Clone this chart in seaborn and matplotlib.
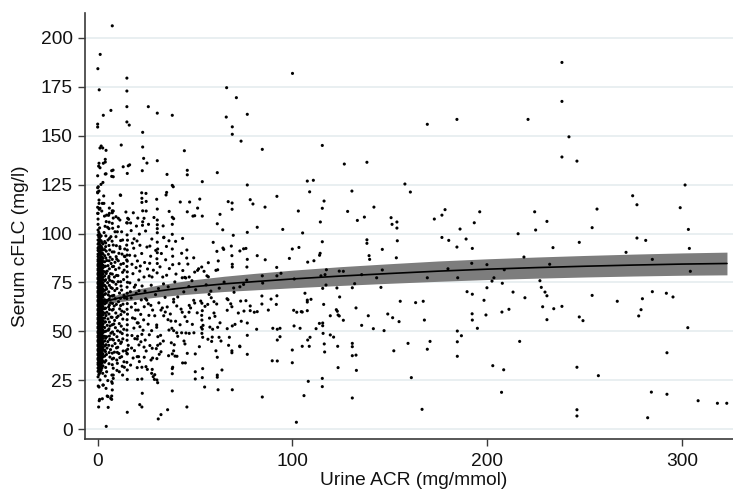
import matplotlib
matplotlib.use("Agg")
import matplotlib.pyplot as plt
import seaborn as sns
import numpy as np
import pandas as pd

sns.set_theme(style="white")
plt.rcParams["font.family"] = ["Liberation Sans", "DejaVu Sans"]

# ---------------- data (urine ACR mg/mmol, serum cFLC mg/l) ----------------
# sparse points, ACR > ~65
far_pts = [
    (100, 181.8), (76.8, 160.9), (169.2, 155.8), (184.4, 158.3), (73.6, 147.2), (84.5, 143),
    (115.3, 145), (126.6, 135.5), (138.2, 136.4), (76.8, 124.8), (107.6, 126.8), (110.7, 127.2),
    (157.7, 125.3), (160.5, 121.2), (108.8, 121.3), (130.5, 121.7), (78.3, 117.3), (79.7, 115.1),
    (92, 119), (116.2, 116.6), (85.9, 113.5), (103, 111.5), (115.3, 112.9), (128.3, 111.3),
    (141.8, 113.5), (114.3, 105.9), (133.3, 106.7), (136.9, 108.4), (150.6, 108.1), (153.6, 105.9),
    (151.1, 104.7), (153.6, 102.8), (81.9, 103.2), (95, 102.1), (76.8, 100.6), (105.2, 100.3),
    (172.8, 107.4), (176.7, 109.4), (178.3, 112.2), (196.1, 111.1), (186, 102.3), (193.3, 105.5),
    (176.7, 98), (180.2, 96.5), (189.1, 97.2), (184.4, 93.1), (192.3, 92.4), (115.3, 95.8),
    (138.2, 96.8), (138.2, 95), (153.8, 96.3), (146.1, 91.9), (103.3, 92.9), (99.9, 92.1), (76.1, 92.4),
    (238.3, 187.4), (238.3, 167.5), (220.9, 158.3), (241.9, 149.4), (238.3, 139.1), (246, 137),
    (301.5, 124.8), (274.6, 119.3), (276.8, 114.7), (299, 113.2), (224.3, 111.1), (256.3, 112.5),
    (230.6, 106.2), (224.8, 101.8), (253.8, 103), (303.2, 102.1), (215.8, 99.9), (247.2, 95.5),
    (276.8, 97.7), (281.3, 96.5), (233.7, 92.8), (303.7, 92.4),
    (271.2, 90.4), (218.8, 88), (199.8, 84.1), (232, 84.3), (284.7, 86.8), (208.7, 81.5),
    (304.2, 80.7), (203.4, 77.4), (202.4, 75.7), (207.7, 74.6), (199.8, 72.3), (227, 75.9),
    (227.7, 72.5), (229.6, 70.1), (230.6, 68.2), (213.2, 70.1), (219.3, 67.2), (198.3, 65.9),
    (253.8, 68.4), (266.7, 65.4), (279.6, 66.7), (284.7, 70.3), (291.9, 69.5), (295.3, 67.6),
    (228.4, 62.6), (234.1, 61.6), (238.3, 62.8), (199.3, 58.4), (207.5, 59.9), (211.1, 61.3),
    (230.6, 56), (247.2, 57.4), (249.1, 55.5), (278.9, 61.1), (277.7, 57.9), (302.9, 51.9),
    (216.6, 44.9), (292.2, 39.1), (202.8, 32.5), (208.4, 30.4), (246, 31.7), (257, 27.4),
    (207.3, 18.9), (284.2, 19), (292.2, 17.9), (308.2, 14.6), (318.1, 13.3), (322.9, 13.3),
    (246, 10), (246, 6.8), (282.3, 5.9),
    (81.9, 88.7), (86, 86.6), (76.8, 86.8), (98.4, 87.3), (107.8, 85.4), (111, 86.1), (113.9, 88.9),
    (114.2, 89.9), (139.3, 88.7), (139.6, 86.8), (153.3, 87.6), (76.6, 82.9), (91.9, 82.7),
    (94.1, 79.7), (92, 78.4), (84.5, 78.4), (76.5, 76.2), (100.9, 76.8), (114.6, 78.4), (117.4, 81.5),
    (116.7, 79), (124, 80.8), (126.1, 80.7), (135.5, 79), (143.2, 77.4), (146.1, 81.4), (169.2, 77.4),
    (179.8, 82), (184.8, 77.4), (192, 84.8), (84.7, 74.7), (73, 72.8), (117.2, 73.7), (115.5, 72),
    (131.9, 74.4), (130.7, 72.3), (145.4, 72.5), (122.8, 72.2), (76.1, 65.7), (84.3, 68.1), (92, 68.2),
    (106.4, 69.5), (107.6, 66), (107.6, 65), (109.5, 66.4), (89, 66.5), (91.7, 63.8), (84.3, 64),
    (78.3, 63), (75.1, 60.4), (78.3, 60.6), (80.4, 59.8), (81.9, 60.1), (87.6, 60.9), (100.6, 60.8),
    (102.2, 59.8), (104.5, 60.1), (105, 59.9), (107.6, 60.6), (116, 63.8), (122.5, 61.1), (123, 60.3),
    (123.4, 58.4), (124, 57.9), (119.4, 58), (124.2, 67.6), (132.6, 62), (138.9, 58), (148.9, 58.9),
    (151.4, 57), (154.7, 55), (155.3, 65.4), (163.2, 64.7), (167.1, 65.4), (167.7, 55.8), (189.6, 70.3),
    (192.3, 69), (192.2, 59), (192.3, 55.8), (194.9, 51.6), (186.7, 47.8), (184.6, 50.2), (184.6, 44.7),
    (184.6, 37.3), (170.6, 44.9), (169.2, 40.9), (159.3, 43.9), (152, 40.1), (147, 50.4), (141.5, 51.4),
    (135.5, 53.1), (126.1, 55.7), (119.4, 48.2), (121.1, 47.1), (115.5, 54.3), (115.5, 52.9),
    (113.8, 54.1), (115.7, 49), (112.1, 51.4), (103.9, 51.6), (100.8, 52.8), (93.6, 51.6), (92.2, 51.1),
    (89.9, 51.6), (93.6, 47.3), (92.2, 45.6), (109, 47), (107.8, 45.6), (108.6, 42.4), (105, 42.4),
    (116.3, 43.6), (116.5, 39.5), (123.2, 42.4), (130.7, 43.9), (130.7, 42.2), (132.6, 37.9),
    (130.7, 37.6), (99.9, 40.5), (99.9, 34), (89.6, 35), (92.2, 34.9), (81.6, 51.1), (76.8, 54.3),
    (76.8, 48), (76.8, 38.3), (123.4, 31.5), (132.8, 30.1), (115.3, 26), (115.3, 21.8), (108.1, 24.5),
    (161, 26.4), (84.5, 16.5), (105.9, 17.2), (130.7, 16), (166.5, 10.2), (102, 3.6), (73, 42.2),
    (66.2, 174.5), (71.2, 169.4), (69.1, 154.5), (69.1, 150.7), (66, 159.5), (67, 116.3), (69, 115.6),
    (69, 112.4), (64.2, 101.9), (59.3, 95.5), (61.4, 105), (62.8, 109.8), (61.4, 131.1), (53.7, 126.5),
    (69.6, 99.1), (73, 91.1), (74.9, 92.2), (68.6, 93.6), (68.9, 88.7), (69.1, 84.3), (69.1, 82.9),
    (64.3, 92.6), (64.7, 91.9), (61.2, 90.9), (61.9, 86), (61.6, 81.5),
]

# moderately dense points, ACR ~0-75
mid_pts = [
    (7.5, 206.1), (1.3, 191.5), (0.1, 184.2), (0.8, 173.4), (15, 179.4), (15, 172.8), (15, 164.8),
    (6.8, 162.9), (2.9, 160.4), (26, 164.8), (30.6, 161.5), (38.3, 160.4), (0, 155.9), (0, 154.4),
    (15, 157), (16.2, 155.4), (23.1, 151.7), (23.1, 144.2), (12.1, 145.2), (1.8, 144.7), (1.2, 143.7),
    (2.6, 143.7), (4.3, 142.5), (3.9, 137.9), (3.9, 136.5), (0.7, 135.9), (0.5, 134.4), (1.2, 133.6),
    (7.2, 132.1), (7.9, 132.4), (7.2, 129.2), (4.3, 130.5), (13.1, 134.1), (16.4, 135.1), (15.2, 130.7),
    (22.9, 132.1), (23.6, 138.4), (25.3, 136), (30.6, 137.2), (35.6, 130.2), (44.5, 142.3), (46, 132.3),
    (46, 130), (2.9, 135.9), (3.9, 130.4), (0, 129.5), (8, 129), (15.7, 134.6), (2.7, 126.1),
    (1.7, 125.1), (0.3, 123.9), (0.7, 121.7), (0, 120.8), (11.6, 119.7), (7.7, 115.4), (7.5, 111.6),
    (8, 111.5), (0.7, 117.1), (0.7, 115.4), (1.2, 112.9), (2.1, 111.5), (3.2, 115.4), (4.6, 109.4),
    (6, 110.3), (9.4, 108.6), (10.6, 107.8), (11.4, 106.9), (14.9, 105.5), (15.4, 107.8), (12.3, 100.9),
    (10.1, 100.9), (7.7, 102.7), (6.8, 98.4), (9.4, 98.4), (12.8, 96.7), (14.9, 94.1), (11.4, 93.3),
    (8, 94.1), (5.3, 96.7), (4.1, 93.3), (6.2, 91.6), (10.9, 89.9), (14, 88.2), (14.9, 86.5),
    (38.3, 124.6), (38.8, 123.9), (30.3, 117.5), (35.4, 121), (35.1, 119.7), (42.4, 116.1),
    (47.2, 116.1), (52.4, 117.6), (51.3, 113), (48.9, 108.9), (53.7, 108.9), (49.8, 109.1), (46, 111.1),
    (11.8, 119.5), (22.6, 120.8), (24.8, 120.5), (22.7, 118), (22.7, 115.9), (24.9, 116.4),
    (23.1, 111.6), (24.9, 111.5), (23.8, 107.8), (30.6, 112.5), (30.6, 106.9), (30.6, 104.5),
    (30.6, 102.5), (30.6, 100.4), (34, 98.1), (38.3, 108.3), (39, 107.6), (38.3, 104.7), (38.3, 99.6),
    (43.6, 97.5), (0, 123.4), (0, 121.2), (14.5, 111), (15.9, 107.3), (16.9, 105.4), (15.2, 105.4),
    (8, 107.9), (7.5, 105.2), (0, 113.4), (0, 110.3), (0.8, 112.4), (3.1, 119.2), (2.4, 115.4),
    (6, 113), (7.5, 110.6), (5.6, 109.3), (5.1, 103.2), (5.8, 102.5), (10.6, 103.5), (8.9, 100.9),
    (20.2, 96.2), (21.7, 94), (25.3, 93.1), (36.6, 96.3), (40, 96), (33.9, 97.9), (30.8, 92.1),
    (38.3, 92.1), (43.1, 89.9), (45.8, 91.6), (49.3, 87.6), (45.7, 87.5), (38.5, 88.4), (38.5, 84.1),
    (32, 83), (30.4, 87.1), (53.4, 82.9), (56.8, 85.1), (51.8, 82), (56.1, 78.4), (45.2, 77.3),
    (47, 77.8), (54.6, 80.7), (60.7, 81.2), (56.8, 77.9), (27.9, 77.8), (26.5, 78.4), (21.6, 80.8),
    (23.8, 77.8), (33.4, 77.8), (35.4, 78.7), (40.2, 79.3), (43.4, 77.4), (44.7, 77.6), (49.8, 80.3),
    (51.3, 81.2), (23.0, 104.2), (23.1, 106.0), (30.6, 95.6), (30.6, 90.2), (30.6, 84.7), (30.5, 79.9),
    (10.5, 75.4), (12, 73.2), (16.5, 74.8), (18.8, 72.6), (21.2, 70.8), (13.5, 68.4), (17.2, 67.1),
    (19.8, 69.5), (27.5, 73.6), (31.2, 71.9), (33.8, 74.3), (36.2, 72.8), (29.7, 68.8), (34.6, 67.4),
    (44.2, 70.2), (46.8, 72.9), (50.3, 71.3), (55.7, 73.8), (58.1, 70.6), (62.4, 72.1), (64.9, 75.2),
    (57.2, 68.9),
    (4.4, 1.5), (15.2, 8.7), (0.5, 11.4), (5.4, 11.2), (1, 15.3), (2.4, 15.6), (4.9, 17), (7.2, 17),
    (7.2, 15.3), (21.6, 12.6), (22.7, 11.4), (31.1, 5.3), (32.5, 7.5), (35.9, 10), (45.8, 11.4),
    (22.9, 18.4), (38.3, 19.6), (54.9, 21.6), (61.8, 20.2), (69.1, 20.2), (0.3, 22.1), (0.7, 21.6),
    (2.7, 22.6), (7.5, 23.5), (7.5, 20.1), (15.2, 25.5), (20.5, 25.5), (22.7, 25.7), (27.7, 28.6),
    (28.5, 26.9), (29.1, 25.5), (30.4, 25.2), (30.8, 23.8), (38.3, 28.4), (50.1, 29.4), (50.1, 25.7),
    (53.7, 26.4), (61.4, 27.7), (61.4, 26.6), (53.9, 31), (63.8, 30.3), (38.5, 31.7), (38.3, 31),
    (43.6, 33.9), (40.7, 37.3), (20.3, 31.5), (22.7, 31.7), (24.8, 32), (25.5, 30.6), (28, 30.6),
    (29.3, 27.9), (27.4, 35.4), (30.4, 36.1), (15.2, 30.3), (7.3, 27.7), (20.3, 37.1), (21, 37.1),
    (15, 34.2), (7.5, 35.9), (9.8, 35.4), (11.4, 36.6), (12.3, 37.1), (10.1, 39.3), (13.1, 40),
    (14.5, 40.1), (15.2, 38.5), (28.2, 36.4), (31.6, 38.3), (32.5, 39.6), (36.4, 37.6), (38.3, 38.5),
    (39.7, 37.4), (39, 40.1), (45, 33.9), (46, 38.8), (50.1, 38.5), (52.2, 42.2), (44.8, 43.6),
    (37.8, 44.2), (39.3, 43.2), (32.1, 43.7), (30.8, 42.9), (28, 41.4), (30.1, 41.2), (24.9, 40),
    (23.8, 42), (60.7, 40.1), (53.9, 47), (56.6, 46), (58.8, 47.1), (58.5, 44.9), (63.3, 45.1),
    (61.4, 36.8), (68.9, 40.1), (68.9, 39.1), (67.6, 47), (67.2, 42.9), (72.9, 42.5), (69.1, 52.8),
    (70.5, 53.6), (66.5, 51.4), (73.7, 55.2), (72.2, 59.4), (66.5, 60.8), (68.9, 62.6), (68.3, 64.1),
    (69.8, 72.2), (70, 70), (66.9, 66.2), (74.9, 74), (73.4, 65.5), (62.8, 54.4), (61.6, 52.1),
    (62.3, 47), (57.6, 52.2), (59, 51.1), (53.2, 52.1), (54.1, 53.1), (53.7, 51.2), (53.5, 49),
    (49.4, 49.3), (47, 49), (45.3, 49.2), (43.1, 49.3), (40.6, 49.3), (39, 50.4), (38.1, 51.6),
    (36.6, 50.7), (30.9, 47.3), (33.7, 45.1), (32.3, 48), (27.7, 50.4), (26.5, 48.3), (53.5, 55.8),
    (53.4, 58.2), (53.7, 60.6), (55.1, 62.8), (56.5, 63.8), (59.7, 59.4), (60.2, 57.7), (46.9, 59.8),
    (44.8, 57.5), (43.4, 59.8), (47, 63.3), (47.7, 62), (49.3, 65.9), (49.8, 64.5), (42.8, 61.4),
    (40.6, 63), (52.9, 65.5), (53.5, 64.4), (58.3, 67.2), (59.7, 65.2), (61.1, 64), (66.4, 66.7),
    (40, 55.2), (37.6, 55.3), (36.1, 56), (37.3, 58.9), (33.9, 58), (34.7, 59.9), (33.2, 62),
    (32.5, 60.9), (39, 65), (39, 66.4), (41.1, 67.6), (26.3, 58.2), (28.2, 60.9), (29.3, 58),
    (30.3, 53.3), (30.3, 52.1), (23.3, 50.6), (22.7, 48.5), (22.2, 44.7), (20.5, 47.5), (20.3, 46.1),
    (21.2, 43.1), (20.3, 54.4), (20.8, 54.3), (19.5, 60.9), (20.8, 60.9), (22.1, 58.7), (23.9, 62.6),
    (26, 64.1), (25.2, 66), (24.6, 66.7), (15.7, 42.9), (15.4, 40.9), (15, 38.8), (13.5, 34.5),
    (12.6, 32.2), (11.1, 29.4), (9.9, 30.1), (41.1, 47.5), (44.3, 45.1), (1.2, 25.2), (2.9, 22.6),
    (4.3, 20.9), (7.2, 24.3), (8, 26), (5.3, 16.7), (6.7, 15.8), (0.8, 14.6), (12.8, 27.7),
    (13.7, 31.7), (10.1, 33.7), (8, 31.2), (4.6, 29.4), (2.6, 28.6), (8, 27.7),
    (16.4, 88.9), (17.8, 95.1), (19.7, 82.6), (21.1, 76.3), (22.8, 73.2), (24.3, 70.6), (26.7, 84.8),
    (28.6, 81.3), (29.8, 91.4), (32.7, 89.8), (34.9, 86.6), (36.8, 82.1), (39.6, 75.3), (41.8, 84.6),
    (43.7, 81.1), (46.3, 84.4), (48.4, 75.9), (35.3, 93.4), (27.8, 97.2), (24.6, 101.3), (20.6, 107.9),
    (18.3, 110.6), (26.1, 104.7), (33.6, 103.9), (36.7, 111.3), (28.9, 108.2), (19.1, 56.5),
    (21.7, 52.4), (23.6, 55.9), (25.9, 53.7), (24.4, 45.6), (26.8, 42.8), (18.9, 40.2), (21.4, 34.6),
    (23.9, 36.8), (17.6, 47.9), (19.3, 64.3), (22.4, 66.1), (27.3, 63.3), (31.4, 64.6), (35.7, 62.5),
    (42.3, 53.4), (45.9, 55.1), (48.6, 53.6), (51.1, 59.5), (57.4, 56.8),
]

# dense points next to the y axis, ACR ~3-27
near_pts = [
    (4.5, 38.2), (4.8, 41.5), (5.2, 44.8), (4.6, 47.3), (5.5, 50.6), (4.9, 53.1), (5.3, 56.4),
    (4.7, 59.8), (5.6, 62.5), (4.8, 65.9), (5.4, 68.7), (4.6, 71.6), (5.1, 74.9), (5.7, 77.3),
    (4.9, 80.8), (5.3, 83.6), (4.7, 86.2), (5.5, 89.4),
    (6.3, 36.9), (6.6, 40.7), (6.2, 45.9), (6.8, 49.1), (6.4, 52.8), (6.9, 57.3), (6.1, 61.2),
    (6.7, 64.6), (6.3, 67.9), (6.8, 72.4), (6.2, 76.1), (6.6, 79.5), (6.9, 84.7), (6.4, 87.9),
    (7.5, 33.0), (7.5, 38.9), (7.5, 42.6), (7.5, 46.0), (7.6, 49.7), (7.5, 53.4), (7.4, 57.2),
    (7.5, 60.9), (7.6, 64.3), (7.5, 68.2), (7.5, 72.0), (7.4, 75.6), (7.5, 79.3), (7.6, 83.1),
    (7.5, 86.8), (7.5, 90.6), (7.4, 96.1),
    (8.6, 39.4), (8.9, 43.8), (8.4, 48.5), (9.1, 51.9), (8.7, 55.6), (9.3, 59.4), (8.5, 63.0),
    (9.0, 66.7), (8.8, 70.9), (9.4, 74.1), (8.6, 77.8), (9.2, 81.6), (8.9, 85.3), (9.5, 88.2),
    (10.3, 41.9), (10.8, 45.4), (10.2, 50.3), (11.1, 54.0), (10.5, 57.8), (11.3, 61.5), (10.7, 65.2),
    (11.2, 69.6), (10.4, 78.5), (11.0, 82.4), (10.6, 86.1), (11.5, 92.3),
    (12.2, 44.6), (12.6, 48.9), (12.1, 52.7), (12.9, 56.3), (12.4, 60.4), (13.0, 63.9), (12.3, 71.1),
    (12.8, 80.2), (13.2, 84.7), (12.5, 89.5),
    (15.1, 45.5), (15.2, 48.1), (15.0, 50.7), (15.2, 53.4), (15.1, 56.0), (15.3, 58.8), (15.1, 61.3),
    (15.2, 64.2), (15.0, 66.8), (15.2, 69.5), (15.1, 72.6), (15.3, 75.1), (15.1, 77.9), (15.2, 80.4),
    (15.0, 83.2), (15.2, 85.9), (15.1, 89.0), (15.2, 91.6), (15.3, 96.6), (15.1, 99.3),
    (17.3, 62.4), (18.1, 79.5), (17.6, 84.3), (19.2, 88.6), (18.5, 92.5), (20.4, 86.0), (21.9, 83.4),
    (16.8, 70.3), (19.4, 73.7), (22.6, 89.8), (24.1, 85.2), (25.6, 81.9), (27.2, 88.4), (26.8, 93.6),
    (18.7, 97.3), (17.2, 101.5), (19.9, 103.8), (21.4, 99.7), (17.9, 56.9), (18.6, 51.7),
    (19.1, 46.3), (17.4, 41.5), (18.2, 36.4), (16.9, 32.8),
    (3.3, 100.5), (4.2, 98.8), (3.8, 103.7), (4.4, 106.1), (3.5, 108.9), (5.9, 105.8), (4.1, 31.6),
    (3.9, 27.2), (5.8, 33.5), (5.2, 24.9),
    (4.2, 35.1), (4.0, 39.7), (4.3, 43.2), (4.1, 46.5), (4.4, 50.2), (4.0, 54.9), (4.3, 58.1),
    (4.1, 61.9), (4.4, 64.8), (4.0, 69.3), (4.3, 72.7), (4.1, 76.4), (4.4, 79.6), (4.0, 83.3),
    (4.2, 87.5), (4.4, 91.0), (4.1, 95.2),
    (5.9, 39.2), (5.7, 42.9), (6.0, 47.6), (5.8, 51.3), (6.0, 54.8), (5.8, 58.9), (6.0, 63.4),
    (5.9, 66.5), (5.7, 70.2), (6.0, 73.5), (5.8, 78.1), (6.0, 82.0), (5.9, 86.1), (5.8, 93.9),
    (6.1, 97.5),
    (8.2, 36.3), (9.7, 41.6), (8.1, 45.6), (9.9, 47.3), (8.3, 53.8), (9.8, 57.1), (8.0, 61.3),
    (9.6, 63.8), (8.3, 68.4), (9.9, 71.9), (8.1, 75.2), (9.7, 78.6), (8.2, 83.2), (9.8, 86.9),
    (8.4, 90.6), (9.6, 93.8), (10.9, 38.7), (11.8, 43.9), (12.9, 46.2), (11.6, 49.7), (13.4, 51.1),
    (11.9, 58.6), (13.6, 59.9), (11.8, 63.2), (13.8, 67.1), (11.7, 66.9), (13.3, 76.5), (11.8, 75.4),
    (13.6, 81.3), (11.9, 84.3), (13.7, 88.4), (11.8, 96.4), (13.9, 92.1),
]

# near-solid column at very low ACR: one x value per column, y values read down the column
core_acr = [0.2, 0.6, 1.0, 1.4, 1.8, 2.2, 2.7, 3.6]
core_cflc_0 = [26.8, 29.6, 31.3, 33.1, 34.0, 35.6, 36.3, 37.9, 38.6, 40.2, 40.9, 42.5, 43.2, 44.8,
               45.5, 47.0, 47.8, 49.3, 50.0, 51.6, 52.3, 53.9, 54.6, 56.1, 56.9, 58.4, 59.2, 60.7,
               61.4, 63.0, 63.7, 65.3, 66.0, 67.5, 68.3, 69.8, 70.6, 72.1, 72.8, 74.4, 75.1, 76.7,
               77.4, 79.0, 79.7, 81.2, 82.0, 83.5, 84.3, 85.8, 86.7, 88.3, 89.5, 91.4, 92.6, 94.6,
               96.7, 99.2, 101.8, 104.7, 107.4, 110.3]
core_cflc_1 = [28.0, 30.5, 32.2, 33.6, 34.8, 36.1, 37.1, 38.3, 39.4, 40.6, 41.6, 42.9, 43.9, 45.2,
               46.2, 47.4, 48.5, 49.7, 50.7, 52.0, 53.0, 54.3, 55.3, 56.5, 57.6, 58.8, 59.8, 61.1,
               62.1, 63.4, 64.4, 65.6, 66.7, 67.9, 68.9, 70.2, 71.2, 72.5, 73.5, 74.7, 75.8, 77.0,
               78.0, 79.3, 80.3, 81.6, 82.6, 83.8, 84.9, 86.3, 87.6, 89.3, 91.0, 93.2, 95.5, 98.2,
               100.6]
core_cflc_2 = [28.7, 31.2, 32.5, 34.0, 35.0, 36.4, 37.3, 38.6, 39.5, 40.9, 41.8, 43.1, 44.1, 45.4,
               46.3, 47.6, 48.6, 49.9, 50.8, 52.1, 53.1, 54.4, 55.3, 56.7, 57.6, 58.9, 59.8, 61.2,
               62.1, 63.4, 64.4, 65.7, 66.6, 67.9, 68.9, 70.2, 71.1, 72.5, 73.4, 74.7, 75.6, 77.0,
               77.9, 79.2, 80.2, 81.5, 82.4, 83.8, 84.7, 86.1, 87.3, 89.0, 90.4, 92.5, 94.5, 97.1,
               99.6, 102.9]
core_cflc_3 = [29.5, 31.9, 33.4, 34.8, 35.9, 37.1, 38.1, 39.4, 40.4, 41.6, 42.7, 43.9, 44.9, 46.2,
               47.2, 48.4, 49.5, 50.7, 51.7, 53.0, 54.0, 55.2, 56.3, 57.5, 58.5, 59.8, 60.8, 62.0,
               63.1, 64.3, 65.3, 66.6, 67.6, 68.8, 69.9, 71.1, 72.1, 73.4, 74.4, 75.6, 76.7, 77.9,
               78.9, 80.2, 81.2, 82.4, 83.5, 84.7, 86.0, 87.6, 89.3, 91.3, 93.4, 96.1, 98.5]
core_cflc_4 = [30.3, 32.6, 34.3, 35.9, 37.1, 38.5, 39.6, 41.0, 42.0, 43.5, 44.5, 45.9, 46.9, 48.4,
               49.4, 50.8, 51.8, 53.3, 54.3, 55.7, 56.7, 58.2, 59.2, 60.6, 61.6, 63.1, 64.1, 65.5,
               66.5, 68.0, 69.0, 70.4, 71.4, 72.9, 73.9, 75.3, 76.3, 77.8, 78.8, 80.2, 81.2, 82.7,
               83.7, 85.2, 86.4, 88.1, 89.6, 91.6, 93.5, 96.3, 98.8]
core_cflc_5 = [31.4, 33.8, 35.7, 37.6, 39.0, 40.7, 42.1, 43.5, 45.2, 46.6, 48.0, 49.7, 51.1, 52.5,
               54.2, 55.6, 57.0, 58.7, 60.1, 61.5, 63.2, 64.6, 66.0, 67.7, 69.1, 70.5, 72.2, 73.6,
               75.0, 76.7, 78.1, 79.5, 81.2, 82.6, 84.3, 86.0, 88.1, 90.2, 92.7, 95.4]
core_cflc_6 = [32.4, 34.7, 37.0, 38.5, 40.3, 41.7, 43.4, 44.7, 46.4, 47.7, 49.4, 50.7, 52.4, 53.7,
               55.4, 56.7, 58.4, 59.7, 61.4, 62.7, 64.4, 65.7, 67.4, 68.7, 70.4, 71.7, 73.4, 74.7,
               76.4, 77.7, 79.4, 80.7, 82.4, 83.8, 85.7, 87.3, 89.6, 91.7, 94.7]
core_cflc_7 = [34.3, 37.4, 40.4, 42.6, 45.1, 47.5, 49.9, 52.0, 54.7, 56.8, 59.3, 61.6, 64.1, 66.2,
               68.9, 71.0, 73.5, 75.8, 78.3, 80.5, 83.2, 85.6, 88.7, 91.8, 95.9]

# fitted curve with 95% confidence band
fit_acr = [0.5, 3, 6, 10, 15, 20, 30, 40, 50, 65, 80, 100, 125, 150, 175, 200, 225, 250, 275, 300, 323]
fit_cflc = [64.3, 65.0, 65.8, 66.9, 68.0, 68.9, 70.5, 71.8, 72.9, 74.3, 75.4, 76.8, 78.3, 79.6,
            80.8, 81.8, 82.6, 83.3, 83.9, 84.4, 84.7]
fit_lower = [63.3, 63.8, 64.3, 65.0, 65.7, 66.3, 67.5, 68.5, 69.3, 70.4, 71.2, 72.3, 73.5, 74.6,
             75.6, 76.5, 77.2, 77.8, 78.3, 78.7, 78.9]
fit_upper = [65.3, 66.2, 67.3, 68.8, 70.3, 71.5, 73.5, 75.1, 76.5, 78.2, 79.6, 81.3, 83.1, 84.6,
             86.0, 87.1, 88.0, 88.8, 89.5, 90.1, 90.5]

x_ticks = [0, 100, 200, 300]
y_ticks = [0, 25, 50, 75, 100, 125, 150, 175, 200]
x_label = "Urine ACR (mg/mmol)"
y_label = "Serum cFLC (mg/l)"

# ---------------- assemble ----------------
acr, cflc = [], []
for pts in (far_pts, mid_pts, near_pts):
    for a, c in pts:
        acr.append(a)
        cflc.append(c)
core_cols = [core_cflc_0, core_cflc_1, core_cflc_2, core_cflc_3,
             core_cflc_4, core_cflc_5, core_cflc_6, core_cflc_7]
for xv, col in zip(core_acr, core_cols):
    for c in col:
        acr.append(xv)
        cflc.append(c)
df = pd.DataFrame({"acr": acr, "cflc": cflc})

# ---------------- figure ----------------
W, H = 733, 493
fig = plt.figure(figsize=(W / 100, H / 100), dpi=100)
ax = fig.add_axes([85 / W, 54 / H, (W - 85) / W, (439 - 13.3) / H])

ax.fill_between(fit_acr, fit_lower, fit_upper, color="#7d7d7d", linewidth=0, zorder=2)
sns.scatterplot(data=df, x="acr", y="cflc", s=5.0, color="black", linewidth=0,
                edgecolor="none", ax=ax, zorder=3, legend=False)
sns.lineplot(x=fit_acr, y=fit_cflc, color="black", linewidth=1.2, ax=ax, zorder=4,
             estimator=None, sort=False)

ax.set_xlim(-6.5, 326.1)
ax.set_ylim(-4.95, 212.5)
ax.set_xticks(x_ticks)
ax.set_yticks(y_ticks)

ax.yaxis.grid(True, color="#e5ecef", linewidth=1.2)
ax.xaxis.grid(False)
ax.set_axisbelow(True)

for side in ["top", "right"]:
    ax.spines[side].set_visible(False)
for side in ["left", "bottom"]:
    ax.spines[side].set_color("#3a3a3a")
    ax.spines[side].set_linewidth(1.2)

ax.tick_params(axis="both", direction="out", length=5.2, width=1.0, color="#3a3a3a",
               labelsize=13.8, labelcolor="#111111")
ax.tick_params(axis="x", pad=4.6)
ax.tick_params(axis="y", pad=3.6)
ax.tick_params(left=True, bottom=True)

ax.set_xlabel(x_label, fontsize=13.8, color="#111111")
ax.set_ylabel(y_label, fontsize=13.8, color="#111111")
ax.xaxis.set_label_coords(0.507, -0.0766)
ax.yaxis.set_label_coords(-0.0864, 0.453)

fig.savefig("out.png", dpi=100)
